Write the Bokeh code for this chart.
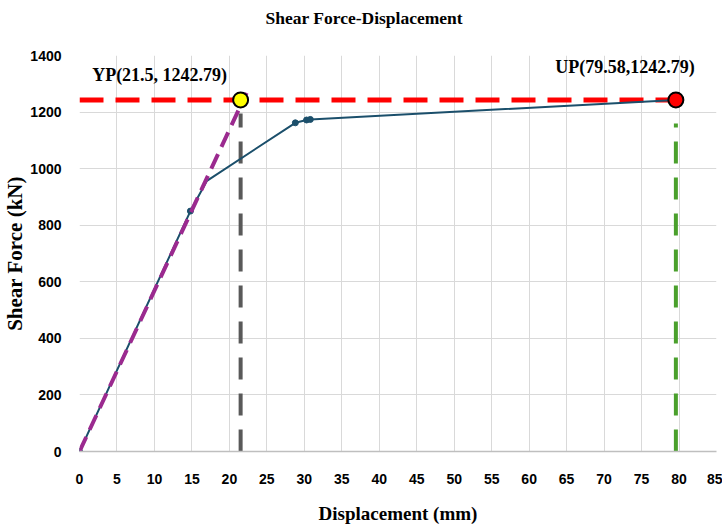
from bokeh.plotting import figure
from bokeh.models import Range1d, FixedTicker, ColumnDataSource, Title
from bokeh.core.properties import value
from bokeh.embed import file_html
from bokeh.resources import INLINE

# ---- data ----
disp = [0, 14.8, 17.0, 28.8, 30.3, 30.8, 79.58]
force = [0, 850, 957, 1162, 1172, 1174, 1242.79]
marker_disp = [0, 14.8, 28.8, 30.3, 30.8]
marker_force = [0, 850, 1162, 1172, 1174]

yp_x, yp_y = 21.5, 1242.79
up_x, up_y = 79.58, 1242.79
elastic_x = [0, 22.3]
elastic_y = [0, 1268]
yp_vline_y = [0, 1195]
up_vline_y = [0, 1160]

x_ticks = list(range(0, 90, 5))
y_ticks = list(range(0, 1600, 200))
labels = ["YP(21.5, 1242.79)", "UP(79.58,1242.79)"]
title_text = "Shear Force-Displacement"

SERIF = "Liberation Serif"
SANS = "Liberation Sans"

p = figure(width=722, height=526, output_backend="svg", toolbar_location=None,
           x_range=Range1d(0, 85), y_range=Range1d(0, 1400),
           title=title_text,
           min_border_left=76, min_border_right=6, min_border_top=55, min_border_bottom=75)
p.outline_line_color = None
p.background_fill_color = "white"
p.border_fill_color = "white"

p.title.text_font = SERIF
p.title.text_font_size = "17.5px"
p.title.text_font_style = "bold"
p.title.align = "left"
p.title.offset = 186
p.title.standoff = 10
p.title.text_color = "black"

# invisible spacer between title and plot area
p.add_layout(Title(text=" ", text_font_size="10px", standoff=10), "above")

p.xaxis.ticker = FixedTicker(ticks=x_ticks)
p.yaxis.ticker = FixedTicker(ticks=y_ticks)
p.xgrid.ticker = FixedTicker(ticks=x_ticks)
p.ygrid.ticker = FixedTicker(ticks=y_ticks)
p.grid.grid_line_color = "#d9d9d9"
p.grid.grid_line_width = 1

for ax in (p.xaxis, p.yaxis):
    ax.major_tick_line_color = None
    ax.minor_tick_line_color = None
    ax.major_label_text_font = SANS
    ax.major_label_text_font_size = "14px"
    ax.major_label_text_font_style = "bold"
    ax.major_label_text_color = "black"
    ax.axis_label_text_font = SERIF
    ax.axis_label_text_font_style = "bold"
    ax.axis_label_text_color = "black"

p.xaxis.axis_line_color = "#bfbfbf"
p.xaxis.axis_line_width = 1.5
p.yaxis.axis_line_color = None
p.xaxis.major_label_standoff = 16
p.yaxis.major_label_standoff = 12
p.xaxis.axis_label = "Displacement (mm)"
p.xaxis.axis_label_text_font_size = "19px"
p.xaxis.axis_label_standoff = 16
p.yaxis.axis_label = "Shear Force (kN)"
p.yaxis.axis_label_text_font_size = "21px"
p.yaxis.axis_label_standoff = 0

# reference lines
p.line([0, up_x], [yp_y, up_y], line_color="#ff0000", line_width=5, line_dash="24 12")
p.line([yp_x, yp_x], yp_vline_y, line_color="#595959", line_width=4, line_dash="22 14")
p.line([up_x, up_x], up_vline_y, line_color="#4aa02c", line_width=4, line_dash="22 14")

# curve
p.line(disp, force, line_color="#1b4f6b", line_width=2)
p.scatter(marker_disp, marker_force, size=6, fill_color="#1b4f6b", line_color="#1b4f6b")

# elastic line
p.line(elastic_x, elastic_y, line_color="#9b2a8f", line_width=4, line_dash="16 8")

# key points
p.scatter([yp_x], [yp_y], size=15, fill_color="#ffff00", line_color="black", line_width=2)
p.scatter([up_x], [up_y], size=15, fill_color="#ff0000", line_color="black", line_width=2)

src = ColumnDataSource(dict(x=[yp_x, up_x], y=[yp_y, up_y], t=labels,
                            xo=[-81, -51], yo=[-25, -33]))
p.text(x="x", y="y", text="t", x_offset="xo", y_offset="yo", source=src,
       text_font=value(SERIF), text_font_size="18px", text_font_style="bold",
       text_align="center", text_baseline="middle", text_color="black")

open("out.html", "w").write(file_html(p, INLINE))
